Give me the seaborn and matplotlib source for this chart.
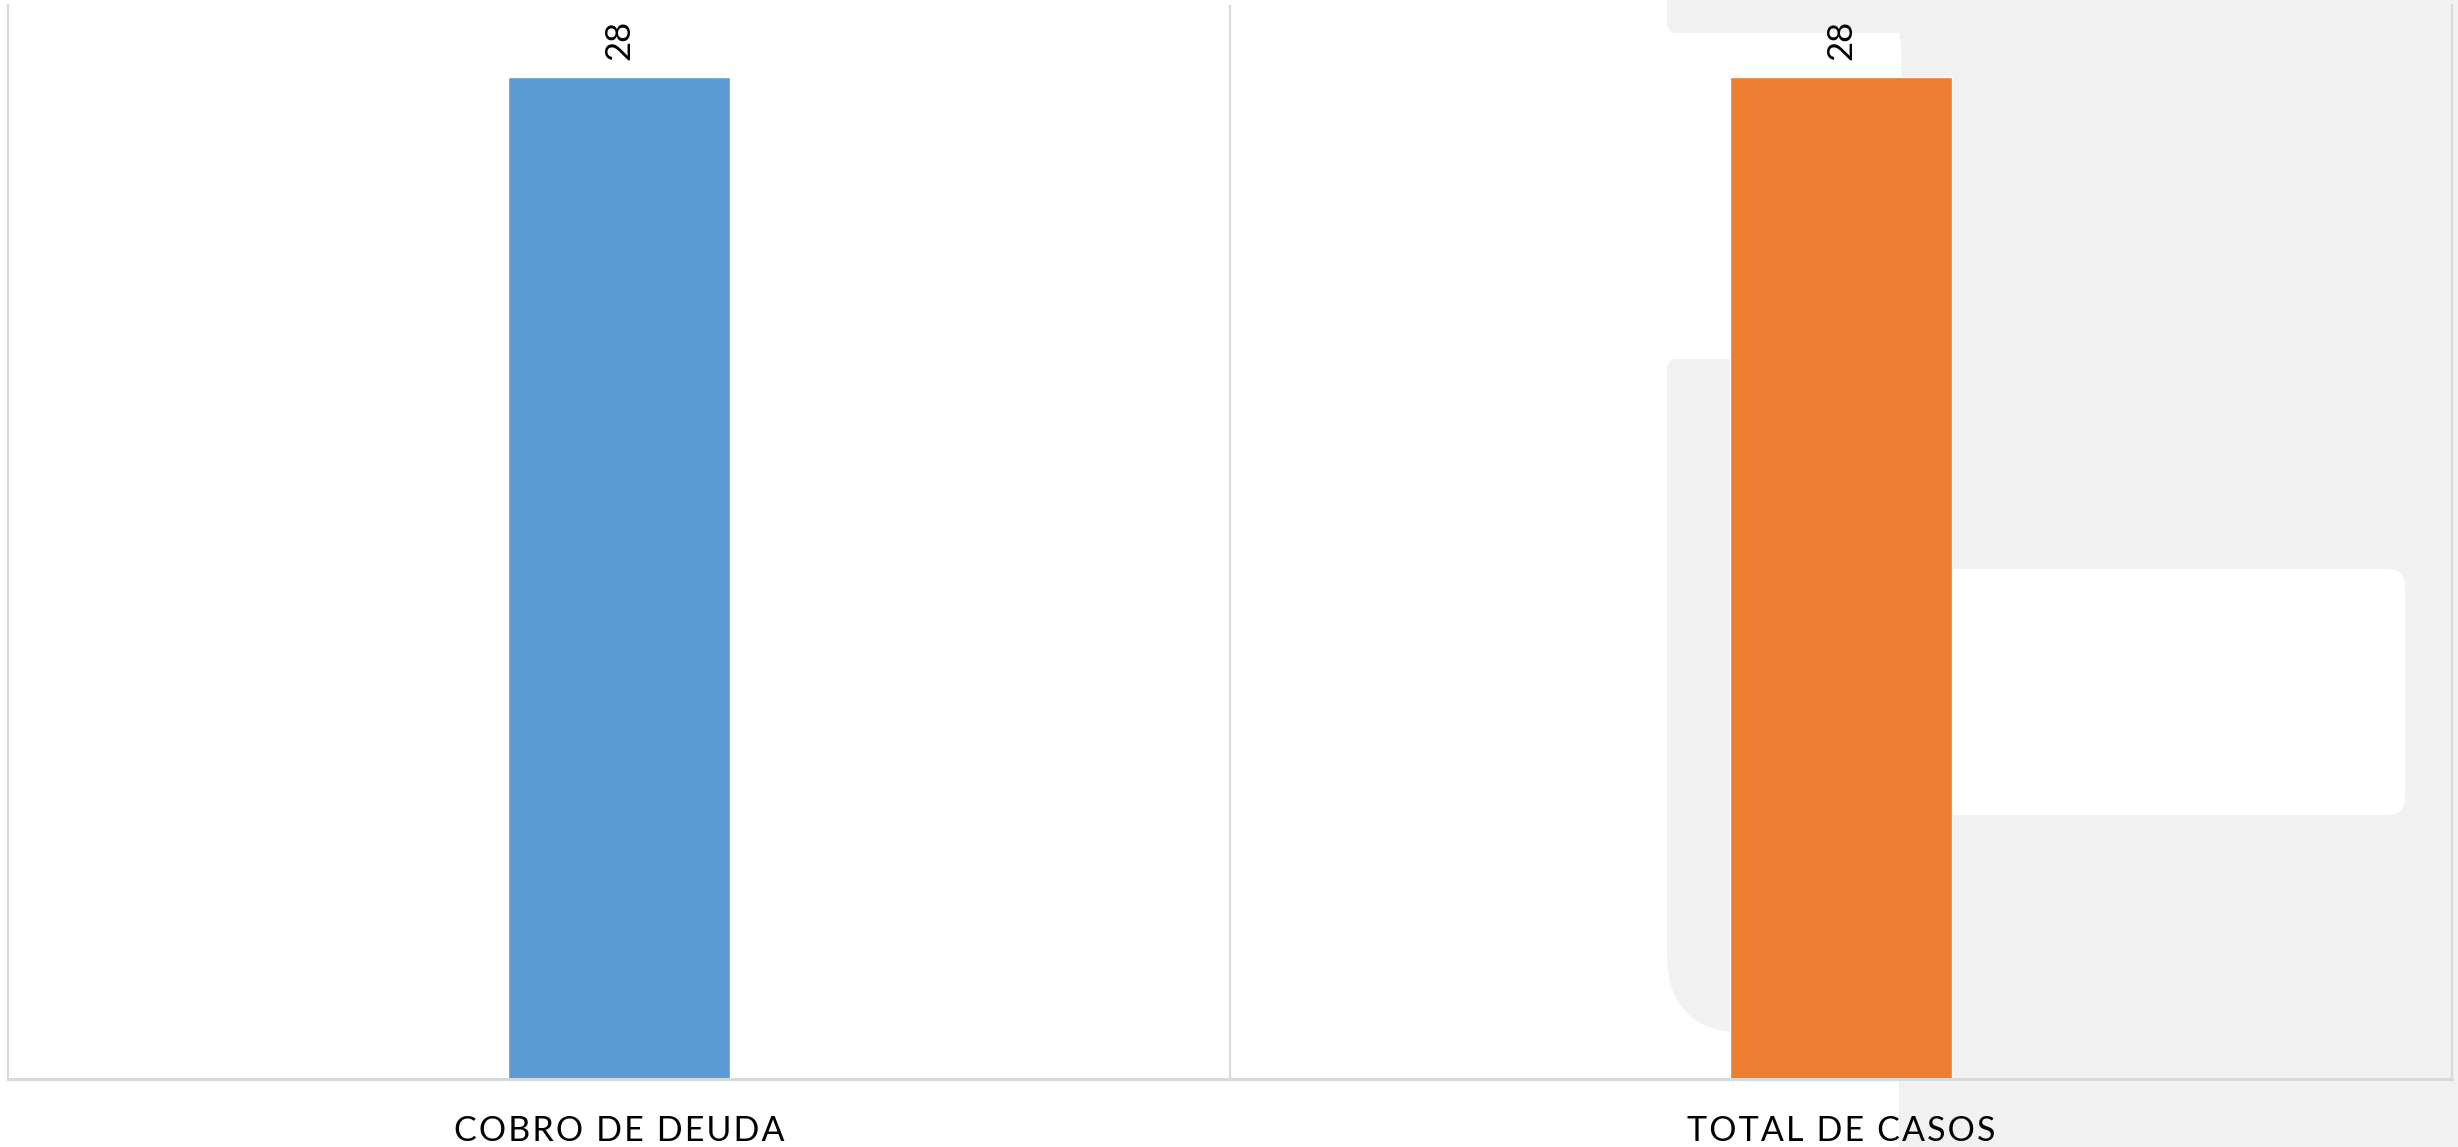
import matplotlib
matplotlib.use("Agg")
import matplotlib.pyplot as plt
from matplotlib.patches import Rectangle, FancyBboxPatch
import seaborn as sns

categorias = ["COBRO DE DEUDA", "TOTAL DE CASOS"]
valores = [28, 28]
colores = ["#5B9BD5", "#ED7D31"]

sns.set_theme(style="white")
plt.rcParams["font.family"] = ["Lato", "DejaVu Sans"]

W, H = 2458, 1147
fig = plt.figure(figsize=(W / 100, H / 100), dpi=100)
fig.patch.set_facecolor("white")

# fondo decorativo (marca de agua gris)
bg = fig.add_axes([0, 0, 1, 1], zorder=0)
bg.set_xlim(0, W)
bg.set_ylim(H, 0)
bg.axis("off")
gris = "#f0f1f0"
bg.add_patch(Rectangle((1899, 0), W - 1899, H, color=gris, lw=0))
bg.add_patch(FancyBboxPatch((1677, -60), 280, 83, boxstyle="round,pad=10", color=gris, lw=0))
bg.add_patch(FancyBboxPatch((1677, 369), 280, 560, boxstyle="round,pad=10", color=gris, lw=0))
bg.add_patch(FancyBboxPatch((1747, 700), 210, 253, boxstyle="round,pad=80", color=gris, lw=0))
bg.add_patch(FancyBboxPatch((1600, 43), 291, 306, boxstyle="round,pad=10", color="white", lw=0))
bg.add_patch(FancyBboxPatch((1919, 587), 468, 210, boxstyle="round,pad=18", color="white", lw=0))

ax = fig.add_axes([8 / W, 1 - 1079 / H, 2444 / W, 1074 / H], zorder=1)
ax.patch.set_alpha(0)

sns.barplot(x=categorias, y=valores, hue=categorias, palette=colores,
            width=0.182, legend=False, saturation=1, ax=ax)

for cont in ax.containers:
    ax.bar_label(cont, padding=12, rotation=90, fontsize=25, color="black")

ax.set_xlim(-0.5, 1.5)
ax.set_ylim(0, 30)
ax.set_yticks([])
ax.set_ylabel("")
# espaciado entre letras como en el original
ax.set_xticks(range(len(categorias)))
ax.set_xticklabels(["\u200a".join(c) for c in categorias])
ax.axvline(0.5, color="#d9d9d9", lw=1.6, zorder=0)
for s in ["left", "right"]:
    ax.spines[s].set_color("#d9d9d9")
    ax.spines[s].set_linewidth(1.6)
ax.spines["bottom"].set_color("#d9d9d9")
ax.spines["bottom"].set_linewidth(2.2)
ax.spines["top"].set_visible(False)
ax.tick_params(axis="x", length=0, pad=26, labelsize=24.5, labelcolor="black")

fig.savefig("out.png", dpi=100)
